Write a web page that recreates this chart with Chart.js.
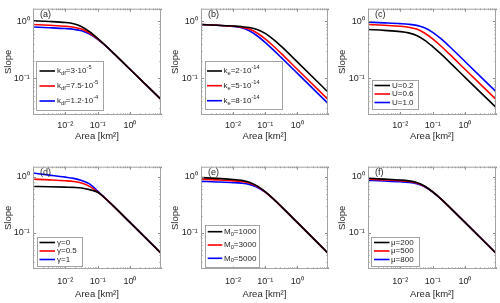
<!DOCTYPE html>
<html>
<head>
<meta charset="utf-8">
<script src="https://cdn.jsdelivr.net/npm/chart.js@4.4.1/dist/chart.umd.min.js"></script>
<style>
  html, body { margin: 0; padding: 0; background: #fff; }
  body { position: relative; width: 500px; height: 303px; overflow: hidden; }
  canvas { position: absolute; }
</style>
</head>
<body>
<canvas id="pa"></canvas>
<canvas id="pb"></canvas>
<canvas id="pc"></canvas>
<canvas id="pd"></canvas>
<canvas id="pe"></canvas>
<canvas id="pf"></canvas>
<script>
// drainage area [km2] where the slope curves were read
const area = [0.001, 0.0032, 0.01, 0.018, 0.032, 0.056, 0.1, 0.18, 0.32, 1, 9.1];

// (a) k_df
const slopeKdf3 = [1.01, 0.987, 0.947, 0.899, 0.800, 0.654, 0.499, 0.369, 0.270, 0.144, 0.0427];
const slopeKdf75 = [0.871, 0.845, 0.814, 0.784, 0.725, 0.620, 0.489, 0.367, 0.270, 0.144, 0.0427];
const slopeKdf12 = [0.791, 0.768, 0.741, 0.719, 0.676, 0.594, 0.480, 0.365, 0.269, 0.144, 0.0427];
// (b) k_e
const slopeKe2 = [0.871, 0.846, 0.820, 0.802, 0.772, 0.714, 0.610, 0.481, 0.361, 0.194, 0.0575];
const slopeKe5 = [0.871, 0.845, 0.814, 0.784, 0.725, 0.620, 0.489, 0.367, 0.270, 0.144, 0.0427];
const slopeKe8 = [0.871, 0.845, 0.806, 0.764, 0.679, 0.555, 0.425, 0.314, 0.230, 0.123, 0.0363];
// (c) U
const slopeU02 = [0.714, 0.689, 0.656, 0.623, 0.561, 0.466, 0.359, 0.267, 0.196, 0.104, 0.031];
const slopeU06 = [0.871, 0.845, 0.814, 0.784, 0.725, 0.620, 0.489, 0.367, 0.270, 0.144, 0.0427];
const slopeU10 = [0.962, 0.934, 0.904, 0.882, 0.843, 0.764, 0.637, 0.493, 0.367, 0.197, 0.0583];
// (d) gamma
const slopeGamma0 = [0.674, 0.667, 0.656, 0.649, 0.634, 0.592, 0.531, 0.403, 0.294, 0.154, 0.0437];
const slopeGamma05 = [0.910, 0.884, 0.853, 0.828, 0.777, 0.678, 0.541, 0.405, 0.295, 0.154, 0.0437];
const slopeGamma1 = [1.17, 1.077, 0.989, 0.940, 0.859, 0.750, 0.560, 0.405, 0.296, 0.154, 0.0437];
// (e) M0
const slopeM1000 = [0.973, 0.939, 0.901, 0.868, 0.806, 0.693, 0.545, 0.406, 0.295, 0.154, 0.0437];
const slopeM3000 = [0.910, 0.884, 0.853, 0.828, 0.777, 0.678, 0.541, 0.405, 0.295, 0.154, 0.0437];
const slopeM5000 = [0.832, 0.813, 0.791, 0.773, 0.735, 0.655, 0.533, 0.403, 0.294, 0.154, 0.0437];
// (f) mu
const slopeMu200 = [0.944, 0.914, 0.879, 0.850, 0.793, 0.686, 0.543, 0.406, 0.295, 0.154, 0.0437];
const slopeMu500 = [0.910, 0.884, 0.853, 0.828, 0.777, 0.678, 0.541, 0.405, 0.295, 0.154, 0.0437];
const slopeMu800 = [0.867, 0.845, 0.819, 0.798, 0.755, 0.667, 0.537, 0.404, 0.294, 0.154, 0.0437];

const xTickValues = [0.01, 0.1, 1];
const xTickLabels = ["10⁻²", "10⁻¹", "10⁰"];
const yTickValues = [0.1, 1];
const yTickLabels = ["10⁻¹", "10⁰"];

// legend texts, pieces with sub/superscripts
const legendKdf = [
    [{ t: "k" }, { t: "df", sub: true }, { t: "=3·10" }, { t: "-5", sup: true }],
    [{ t: "k" }, { t: "df", sub: true }, { t: "=7.5·10" }, { t: "-5", sup: true }],
    [{ t: "k" }, { t: "df", sub: true }, { t: "=1.2·10" }, { t: "-4", sup: true }]
];
const legendKe = [
    [{ t: "k" }, { t: "e", sub: true }, { t: "=2·10" }, { t: "-14", sup: true }],
    [{ t: "k" }, { t: "e", sub: true }, { t: "=5·10" }, { t: "-14", sup: true }],
    [{ t: "k" }, { t: "e", sub: true }, { t: "=8·10" }, { t: "-14", sup: true }]
];
const legendU = [[{ t: "U=0.2" }], [{ t: "U=0.6" }], [{ t: "U=1.0" }]];
const legendGamma = [[{ t: "γ=0" }], [{ t: "γ=0.5" }], [{ t: "γ=1" }]];
const legendM = [
    [{ t: "M" }, { t: "0", sub: true }, { t: "=1000" }],
    [{ t: "M" }, { t: "0", sub: true }, { t: "=3000" }],
    [{ t: "M" }, { t: "0", sub: true }, { t: "=5000" }]
];
const legendMu = [[{ t: "μ=200" }], [{ t: "μ=500" }], [{ t: "μ=800" }]];

const colors = ["#000000", "#ff0000", "#0000ff"];
const FONT = '"Liberation Sans", Arial, Helvetica, sans-serif';
const TXT = "#262626";

// page coordinates of each panel
const panels = [
    { id: "pa", left: 0, top: 0, w: 165, h: 151, plot: [33, 4, 161, 115], yMax: 1.65, letter: "(a)",
      series: [slopeKdf3, slopeKdf75, slopeKdf12], legend: legendKdf,
      box: [36, 61, 103, 110], rows: [71, 86, 101], line: [39.5, 55], textX: 57 },
    { id: "pb", left: 167, top: 0, w: 165, h: 151, plot: [201, 4, 328, 115], yMax: 1.65, letter: "(b)",
      series: [slopeKe2, slopeKe5, slopeKe8], legend: legendKe,
      box: [204.5, 61, 281, 108.5], rows: [71, 85.7, 100.7], line: [207, 222], textX: 223.5 },
    { id: "pc", left: 334, top: 0, w: 166, h: 151, plot: [368, 4, 496, 115], yMax: 1.65, letter: "(c)",
      series: [slopeU02, slopeU06, slopeU10], legend: legendU,
      box: [371.5, 80, 417.5, 109], rows: [85.5, 94, 102.5], line: [374.5, 390], textX: 392 },
    { id: "pd", left: 0, top: 158, w: 165, h: 145, plot: [33, 163, 161, 269], yMax: 1.52, letter: "(d)",
      series: [slopeGamma0, slopeGamma05, slopeGamma1], legend: legendGamma,
      box: [36.5, 237, 81.5, 266], rows: [242.5, 251, 259.5], line: [39.5, 55], textX: 57 },
    { id: "pe", left: 167, top: 158, w: 165, h: 145, plot: [201, 163, 328, 269], yMax: 1.52, letter: "(e)",
      series: [slopeM1000, slopeM3000, slopeM5000], legend: legendM,
      box: [205, 225, 258.5, 266.5], rows: [231.7, 245, 258.3], line: [207.7, 222.3], textX: 224 },
    { id: "pf", left: 334, top: 158, w: 166, h: 145, plot: [368, 163, 496, 269], yMax: 1.52, letter: "(f)",
      series: [slopeMu200, slopeMu500, slopeMu800], legend: legendMu,
      box: [371, 237, 419, 266], rows: [242.5, 251, 259.5], line: [374, 389.5], textX: 391 }
];

function drawRich(ctx, pieces, x, y, size) {
    for (const p of pieces) {
        const small = p.sub || p.sup;
        const fs = small ? size * 0.72 : size;
        ctx.font = fs + "px " + FONT;
        const dy = p.sub ? size * 0.32 : p.sup ? -size * 0.42 : 0;
        ctx.fillText(p.t, x, y + dy);
        x += ctx.measureText(p.t).width;
    }
}

const decoPlugin = {
    id: "deco",
    afterDraw(chart, args, o) {
        const { ctx, chartArea: ca, scales: { x, y } } = chart;
        ctx.save();

        // small inward ticks on all four sides
        ctx.strokeStyle = "#8a8a8a";
        ctx.lineWidth = 1;
        ctx.beginPath();
        for (let d = -3; d <= 0; d++) {
            for (let m = 1; m < 10; m++) {
                const v = m * Math.pow(10, d);
                if (v < x.min || v > x.max) continue;
                const px = Math.round(x.getPixelForValue(v)) + 0.5;
                const len = m === 1 ? 3 : 1.5;
                ctx.moveTo(px, ca.bottom); ctx.lineTo(px, ca.bottom - len);
                ctx.moveTo(px, ca.top); ctx.lineTo(px, ca.top + len);
            }
        }
        for (let d = -2; d <= 0; d++) {
            for (let m = 1; m < 10; m++) {
                const v = m * Math.pow(10, d);
                if (v < y.min || v > y.max) continue;
                const py = Math.round(y.getPixelForValue(v)) + 0.5;
                const len = m === 1 ? 3 : 1.5;
                ctx.moveTo(ca.left, py); ctx.lineTo(ca.left + len, py);
                ctx.moveTo(ca.right, py); ctx.lineTo(ca.right - len, py);
            }
        }
        ctx.stroke();

        ctx.strokeStyle = "#a3a3a3";
        ctx.strokeRect(ca.left + 0.5, ca.top + 0.5, ca.width - 1, ca.height - 1);

        // panel letter
        ctx.fillStyle = TXT;
        ctx.textBaseline = "middle";
        ctx.textAlign = "left";
        ctx.font = "9px " + FONT;
        ctx.fillText(o.letter, ca.left + 7, ca.top + 5.5);

        // legend
        const b = o.box;
        ctx.fillStyle = "#fff";
        ctx.fillRect(b[0], b[1], b[2] - b[0], b[3] - b[1]);
        ctx.strokeStyle = "#a3a3a3";
        ctx.strokeRect(Math.round(b[0]) + 0.5, Math.round(b[1]) + 0.5, Math.round(b[2] - b[0]), Math.round(b[3] - b[1]));
        o.rows.forEach((ry, i) => {
            ctx.strokeStyle = colors[i];
            ctx.lineWidth = 1.6;
            ctx.beginPath();
            ctx.moveTo(o.line[0], ry);
            ctx.lineTo(o.line[1], ry);
            ctx.stroke();
            ctx.fillStyle = TXT;
            drawRich(ctx, o.legend[i], o.textX, ry, 8);
        });
        ctx.restore();
    }
};

panels.forEach(p => {
    const cv = document.getElementById(p.id);
    cv.width = p.w;
    cv.height = p.h;
    cv.style.left = p.left + "px";
    cv.style.top = p.top + "px";
    cv.style.width = p.w + "px";
    cv.style.height = p.h + "px";

    const topRow = p.top === 0;
    const xAxisH = p.h - (p.plot[3] - p.top);

    new Chart(cv.getContext("2d"), {
        type: "line",
        data: {
            datasets: p.series.map((s, i) => ({
                data: area.map((a, k) => ({ x: a, y: s[k] })),
                borderColor: colors[i],
                borderWidth: 1.6,
                pointRadius: 0,
                fill: false,
                cubicInterpolationMode: "monotone"
            }))
        },
        options: {
            responsive: false,
            animation: false,
            devicePixelRatio: 1,
            events: [],
            layout: {
                padding: { left: 0, top: p.plot[1] - p.top, right: p.left + p.w - p.plot[2], bottom: 0 }
            },
            scales: {
                x: {
                    type: "logarithmic",
                    min: 0.001,
                    max: 9.1,
                    grid: { display: false, drawTicks: false },
                    border: { display: false },
                    afterBuildTicks: s => { s.ticks = xTickValues.map(v => ({ value: v })); },
                    afterFit: s => { s.height = xAxisH; },
                    ticks: {
                        autoSkip: false,
                        maxRotation: 0,
                        padding: topRow ? 5 : 7,
                        color: TXT,
                        font: { family: FONT, size: 9 },
                        callback: (v, i) => xTickLabels[i]
                    },
                    title: {
                        display: true,
                        text: "Area [km²]",
                        color: TXT,
                        font: { family: FONT, size: 9.5 },
                        padding: { top: 0, bottom: topRow ? 8.6 : 3.3 }
                    }
                },
                y: {
                    type: "logarithmic",
                    min: topRow ? 0.0228 : 0.0227,
                    max: p.yMax,
                    grid: { display: false, drawTicks: false },
                    border: { display: false },
                    afterBuildTicks: s => { s.ticks = yTickValues.map(v => ({ value: v })); },
                    afterFit: s => { s.width = p.plot[0] - p.left; },
                    ticks: {
                        autoSkip: false,
                        padding: 3.3,
                        color: TXT,
                        font: { family: FONT, size: 9 },
                        callback: (v, i) => yTickLabels[i]
                    },
                    title: {
                        display: true,
                        text: "Slope",
                        color: TXT,
                        font: { family: FONT, size: 9.5 },
                        padding: { top: 2.5, bottom: 0 }
                    }
                }
            },
            plugins: {
                legend: { display: false },
                tooltip: { enabled: false },
                deco: {
                    letter: p.letter,
                    legend: p.legend,
                    box: p.box.map((v, i) => i % 2 === 0 ? v - p.left : v - p.top),
                    rows: p.rows.map(v => v - p.top),
                    line: p.line.map(v => v - p.left),
                    textX: p.textX - p.left
                }
            }
        },
        plugins: [decoPlugin]
    });
});
</script>
</body>
</html>
